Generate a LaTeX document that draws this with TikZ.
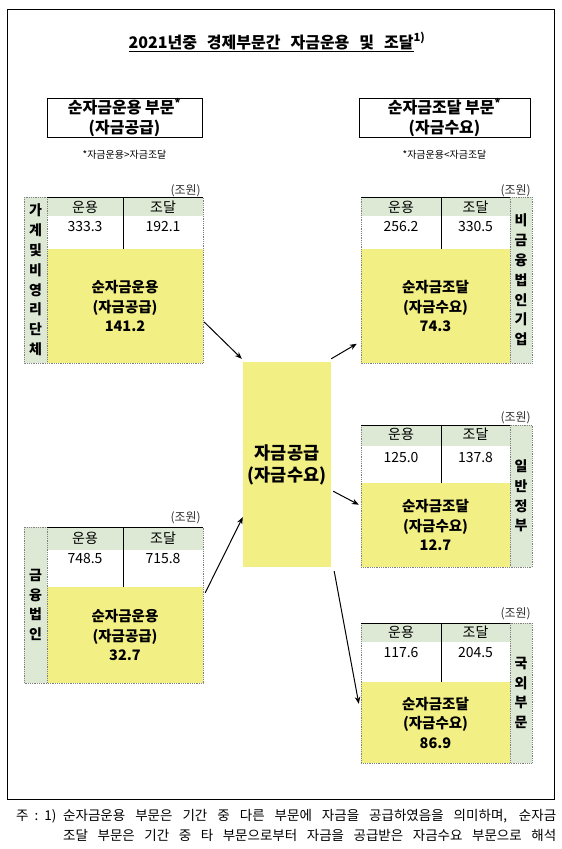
\documentclass[tikz,border=0pt]{standalone}
\usepackage{fontspec}
\setmainfont{Noto Sans CJK KR}
\usetikzlibrary{calc,arrows.meta}
\definecolor{yfill}{HTML}{F2EF84}
\definecolor{gfill}{HTML}{DDE9D5}
\tikzset{
  yel/.style={fill=yfill, draw=none, inner sep=0pt, align=center, font=\bfseries\fontsize{14.5}{19.5}\selectfont},
  hdr/.style={font=\fontsize{14}{16}\selectfont, inner sep=0pt, anchor=base},
  lab/.style={fill=gfill, inner sep=0pt, align=center, font=\bfseries\fontsize{14}{19.8}\selectfont},
  unit/.style={font=\fontsize{12}{14}\selectfont, anchor=east, inner sep=0pt, text=black!80},
  dotb/.style={draw=black!50, dash pattern=on 0.9pt off 0.9pt, line width=0.9pt},
  solidl/.style={draw=black, line width=0.9pt},
  arr/.style={-{Stealth[length=7pt,width=5.5pt]}, line width=1pt},
  hbox/.style={draw, line width=1pt, inner sep=0pt, align=center, font=\bfseries\fontsize{16}{20}\selectfont},
  note/.style={font=\fontsize{10}{12}\selectfont, inner sep=0pt},
  fn/.style={font=\fontsize{13.5}{18}\selectfont, inner sep=0pt, anchor=base west},
}
\begin{document}
\begin{tikzpicture}[x=1pt,y=-1pt]
\useasboundingbox (0,0) rectangle (562,849);
% frame
\draw[line width=1pt] (7,9) rectangle (554,799);
% title
\node[font=\bfseries\fontsize{16}{18}\selectfont, inner sep=0pt, anchor=base] (title) at (277,48)
  {\underline{2021년중\hspace{10pt}경제부문간\hspace{10pt}자금운용\hspace{10pt}및\hspace{10pt}조달}\textsuperscript{1)}};
% header boxes
\node[hbox, minimum width=155pt, minimum height=39pt] (hl) at (124.5,117.5) {순자금운용 부문\textsuperscript{*}\\(자금공급)};
\node[hbox, minimum width=171pt, minimum height=39pt] (hr) at (444.5,117.5) {순자금조달 부문\textsuperscript{*}\\(자금수요)};
\node[note] (nl) at (124.5,155) {*자금운용>자금조달};
\node[note] (nr) at (444.5,155) {*자금운용<자금조달};

% ---------- Left block 1 ----------
\fill[gfill] (47,197) rectangle (203,216);
\node[lab, minimum width=23pt, minimum height=166pt] (lg1) at (35.5,280) {가\\계\\및\\비\\영\\리\\단\\체};
\node[yel, minimum width=156pt, minimum height=114pt] (ly1) at (125,306) {순자금운용\\(자금공급)\\141.2};
\node[hdr] (l1h1) at (85,212) {운용};
\node[hdr] (l1h2) at (163,212) {조달};
\node[hdr] (l1v1) at (85,231) {333.3};
\node[hdr] (l1v2) at (163,231) {192.1};
\draw[dotb] (24,197) rectangle (203,363);
\draw[dotb] (47,197) -- (47,363);
\draw[solidl] (47,197) -- (203,197);
\draw[solidl] (123,197) -- (123,249);
\node[unit] (u1) at (201,191) {(조원)};

% ---------- Left block 2 ----------
\fill[gfill] (47,527) rectangle (203,550);
\node[lab, minimum width=23pt, minimum height=156pt] (lg2) at (35.5,605) {금\\융\\법\\인};
\node[yel, minimum width=156pt, minimum height=96pt] (ly2) at (125,635) {순자금운용\\(자금공급)\\32.7};
\node[hdr] (l2h1) at (85,543) {운용};
\node[hdr] (l2h2) at (163,543) {조달};
\node[hdr] (l2v1) at (85,563) {748.5};
\node[hdr] (l2v2) at (163,563) {715.8};
\draw[dotb] (24,527) rectangle (203,683);
\draw[dotb] (47,527) -- (47,683);
\draw[solidl] (47,527) -- (203,527);
\draw[solidl] (123,527) -- (123,587);
\node[unit] (u2) at (201,518) {(조원)};

% ---------- Right block 1 ----------
\fill[gfill] (361,197) rectangle (510,216);
\node[lab, minimum width=22pt, minimum height=166pt] (rg1) at (521,280) {비\\금\\융\\법\\인\\기\\업};
\node[yel, minimum width=149pt, minimum height=114pt] (ry1) at (435.5,306) {순자금조달\\(자금수요)\\74.3};
\node[hdr] (r1h1) at (401,212) {운용};
\node[hdr] (r1h2) at (475.5,212) {조달};
\node[hdr] (r1v1) at (401,231) {256.2};
\node[hdr] (r1v2) at (475.5,231) {330.5};
\draw[dotb] (361,197) rectangle (532,363);
\draw[dotb] (510,197) -- (510,363);
\draw[solidl] (361,197) -- (510,197);
\draw[solidl] (441,197) -- (441,249);
\node[unit] (u3) at (531,191) {(조원)};

% ---------- Right block 2 ----------
\fill[gfill] (361,425) rectangle (510,446);
\node[lab, minimum width=22pt, minimum height=142pt] (rg2) at (521,496) {일\\반\\정\\부};
\node[yel, minimum width=149pt, minimum height=84pt] (ry2) at (435.5,525) {순자금조달\\(자금수요)\\12.7};
\node[hdr] (r2h1) at (401,439) {운용};
\node[hdr] (r2h2) at (475.5,439) {조달};
\node[hdr] (r2v1) at (401,462) {125.0};
\node[hdr] (r2v2) at (475.5,462) {137.8};
\draw[dotb] (361,425) rectangle (532,567);
\draw[dotb] (510,425) -- (510,567);
\draw[solidl] (361,425) -- (510,425);
\draw[solidl] (441,425) -- (441,483);
\node[unit] (u4) at (531,418) {(조원)};

% ---------- Right block 3 ----------
\fill[gfill] (361,623) rectangle (510,642);
\node[lab, minimum width=22pt, minimum height=140pt] (rg3) at (521,693) {국\\외\\부\\문};
\node[yel, minimum width=149pt, minimum height=81pt] (ry3) at (435.5,722.5) {순자금조달\\(자금수요)\\86.9};
\node[hdr] (r3h1) at (401,637) {운용};
\node[hdr] (r3h2) at (475.5,637) {조달};
\node[hdr] (r3v1) at (401,657) {117.6};
\node[hdr] (r3v2) at (475.5,657) {204.5};
\draw[dotb] (361,623) rectangle (532,763);
\draw[dotb] (510,623) -- (510,763);
\draw[solidl] (361,623) -- (510,623);
\draw[solidl] (441,623) -- (441,682);
\node[unit] (u5) at (531,614) {(조원)};

% ---------- Central box ----------
\node[yel, font=\bfseries\fontsize{17.5}{22}\selectfont, minimum width=88pt, minimum height=205pt] (cen) at (287,464.5) {자금공급\\(자금수요)};

% ---------- Arrows ----------
\coordinate (a1s) at ($(ly1.north east)!0.64!(ly1.south east)+(1,0)$);
\coordinate (a1e) at ([shift={(-1,-3)}]cen.north west);
\draw[arr] (a1s) -- (a1e);
\coordinate (a2s) at ([shift={(2,6)}]ly2.north east);
\coordinate (a2e) at ($(cen.north west)!0.756!(cen.south west)$);
\draw[arr] (a2s) -- (a2e);
\coordinate (a3s) at ([shift={(0,-3)}]cen.north east);
\coordinate (a3e) at ($(ry1.north west)!0.83!(ry1.south west)+(-4,0)$);
\draw[arr] (a3s) -- (a3e);
\coordinate (a4s) at ($(cen.north east)!0.63!(cen.south east)+(2,0)$);
\coordinate (a4e) at ($(ry2.north west)!0.26!(ry2.south west)+(-2,0)$);
\draw[arr] (a4s) -- (a4e);
\coordinate (a5s) at ([shift={(3,4)}]cen.south east);
\coordinate (a5e) at ($(ry3.north west)!0.27!(ry3.south west)+(-2,0)$);
\draw[arr] (a5s) -- (a5e);

% ---------- Footnote ----------
\node[fn] (fn0) at (16,820) {주\hspace{6pt}:\hspace{6pt}1)};
\node[fn] (fn1) at (63,820) {\makebox[493pt][s]{순자금운용 부문은 기간 중 다른 부문에 자금을 공급하였음을 의미하며, 순자금}};
\node[fn] (fn2) at (63,840) {\makebox[493pt][s]{조달 부문은 기간 중 타 부문으로부터 자금을 공급받은 자금수요 부문으로 해석}};
\end{tikzpicture}
\end{document}
